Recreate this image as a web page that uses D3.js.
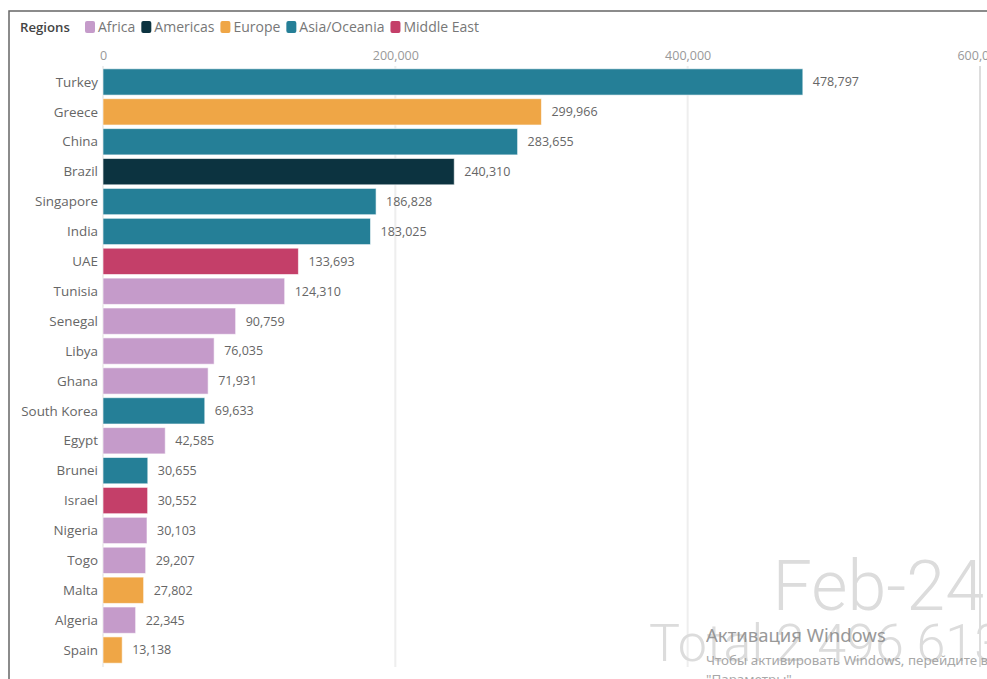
<!DOCTYPE html>
<html><head><meta charset="utf-8">
<script src="https://cdn.jsdelivr.net/npm/d3@7"></script>
<style>
html,body{margin:0;padding:0;background:#fff;overflow:hidden}
svg{display:block}
</style></head>
<body>
<svg id="chart" width="987" height="679"></svg>
<script>
const countries = ["Turkey","Greece","China","Brazil","Singapore","India","UAE","Tunisia","Senegal","Libya","Ghana","South Korea","Egypt","Brunei","Israel","Nigeria","Togo","Malta","Algeria","Spain"];
const values = [478797,299966,283655,240310,186828,183025,133693,124310,90759,76035,71931,69633,42585,30655,30552,30103,29207,27802,22345,13138];
const regionOf = ["Asia/Oceania","Europe","Asia/Oceania","Americas","Asia/Oceania","Asia/Oceania","Middle East","Africa","Africa","Africa","Africa","Asia/Oceania","Africa","Asia/Oceania","Middle East","Africa","Africa","Europe","Africa","Europe"];
const regions = ["Africa","Americas","Europe","Asia/Oceania","Middle East"];
const regionColors = ["#c59bca","#0c3340","#efa646","#257f97","#c43f69"];
const xTicks = [0,200000,400000,600000];
const dateLabel = "Feb-24";
const totalLabel = "Total 2 496 613";

const svg = d3.select("#chart");
const font = "'Open Sans', sans-serif";
const color = d3.scaleOrdinal().domain(regions).range(regionColors);
const x = d3.scaleLinear().domain([0,600000]).range([103,980]);
const y = d3.scaleBand().domain(countries).range([67,665]).paddingInner(0.12).paddingOuter(0.06);

// frame
svg.append("path").attr("d","M9,679 V11 H987").attr("fill","none").attr("stroke","#666").attr("stroke-width",1.5);

// gridlines
svg.append("g").selectAll("line").data(xTicks).join("line")
  .attr("x1",d=>x(d)).attr("x2",d=>x(d)).attr("y1",66).attr("y2",667)
  .attr("stroke",(d,i)=>i===3?"#ddd":"#eeeeee").attr("stroke-width",2);

// axis
const axis = d3.axisTop(x).tickValues(xTicks).tickFormat(d3.format(",")).tickSize(0).tickPadding(0);
const ag = svg.append("g").attr("transform","translate(0,60)").call(axis);
ag.select(".domain").remove();
ag.selectAll("text").attr("font-family",font).attr("font-size",12.5).attr("fill","#999");

// watermark
svg.append("text").attr("x",984).attr("y",610).attr("text-anchor","end")
  .attr("font-family","Roboto, sans-serif").attr("font-weight",300).attr("font-size",70).attr("fill","#dcdcdc").text(dateLabel);
svg.append("text").attr("x",1003).attr("y",661).attr("text-anchor","end")
  .attr("font-family","Roboto, sans-serif").attr("font-weight",300).attr("font-size",52).attr("fill","#dcdcdc").text(totalLabel);

// bars
svg.append("g").selectAll("rect").data(countries).join("rect")
  .attr("x",x(0)).attr("y",d=>y(d)).attr("height",y.bandwidth())
  .attr("width",(d,i)=>x(values[i])-x(0))
  .attr("fill",(d,i)=>color(regionOf[i]))
  .attr("stroke","rgba(255,255,255,0.6)").attr("stroke-width",1);

// country labels
svg.append("g").selectAll("text").data(countries).join("text")
  .attr("x",98).attr("y",d=>y(d)+y.bandwidth()/2).attr("dy","0.35em")
  .attr("text-anchor","end").attr("font-family",font).attr("font-size",13.4).attr("fill","#666").text(d=>d);

// value labels
svg.append("g").selectAll("text").data(countries).join("text")
  .attr("x",(d,i)=>x(values[i])+10).attr("y",d=>y(d)+y.bandwidth()/2).attr("dy","0.35em")
  .attr("font-family",font).attr("font-size",12.5).attr("fill","#666").text((d,i)=>d3.format(",")(values[i]));

// legend
const lg = svg.append("g");
lg.append("text").attr("x",20).attr("y",32).attr("font-family",font).attr("font-size",13.2).attr("font-weight",600).attr("fill","#444").text("Regions");
let lx = 85;
regions.forEach((r,i)=>{
  lg.append("rect").attr("x",lx).attr("y",21).attr("width",10).attr("height",12).attr("rx",2).attr("fill",regionColors[i]);
  const t = lg.append("text").attr("x",lx+13).attr("y",32).attr("font-family",font).attr("font-size",14).attr("fill","#777").text(r);
  lx += 13 + t.node().getComputedTextLength() + 6;
});

// OS overlay text
svg.append("text").attr("x",706).attr("y",642).attr("font-family","'Noto Sans', sans-serif").attr("font-size",18.5).attr("fill","#888").attr("opacity",0.85).text("Активация Windows");
svg.append("text").attr("x",706).attr("y",665).attr("font-family","'Noto Sans', sans-serif").attr("font-size",13.4).attr("fill","#999").attr("opacity",0.85).text("Чтобы активировать Windows, перейдите в");
svg.append("text").attr("x",706).attr("y",684).attr("font-family","'Noto Sans', sans-serif").attr("font-size",13.4).attr("fill","#999").attr("opacity",0.85).text("\"Параметры\".");
</script>
</body></html>
